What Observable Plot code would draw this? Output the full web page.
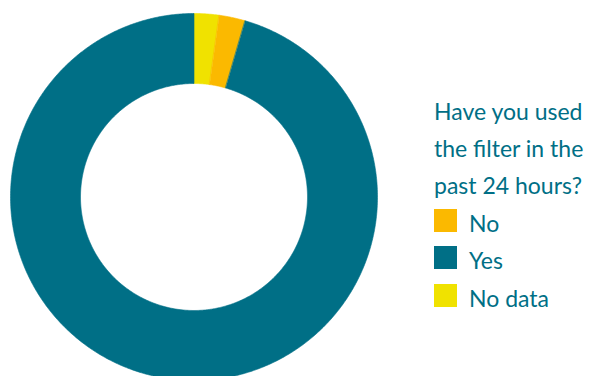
<!DOCTYPE html>
<html>
<head>
<meta charset="utf-8">
<script src="https://cdn.jsdelivr.net/npm/d3@7"></script>
<script src="https://cdn.jsdelivr.net/npm/@observablehq/plot@0.6"></script>
<style>
  html, body { margin: 0; padding: 0; background: #fff; }
  #wrap { position: relative; width: 589px; height: 376px; overflow: hidden; }
  #chart { position: absolute; left: 0; top: 0; }
  #legend { position: absolute; left: 434px; top: 92.5px; font-family: Lato, sans-serif; font-size: 23px; line-height: 37.4px; color: #006f86; }
  #legend .title { white-space: nowrap; }
  #legend .item { white-space: nowrap; }
  #legend .sw { display: inline-block; vertical-align: baseline; width: 23px; height: 23px; margin-right: 12px; }
</style>
</head>
<body>
<div id="wrap">
  <div id="chart"></div>
  <div id="legend"></div>
</div>
<script>
// Data
const categories = ["No", "Yes", "No data"];
const values = [2.3, 95.5, 2.2];
const colors = ["#fbb900", "#006f86", "#f0e200"];
const sliceOrder = ["No data", "No", "Yes"]; // clockwise from 12 o'clock
const legendTitle = ["Have you used", "the filter in the", "past 24 hours?"];

const innerRatio = 0.6185;

// Build slice polygons
const total = d3.sum(values);
const points = [];
let acc = 0;
for (const key of sliceOrder) {
  const v = values[categories.indexOf(key)];
  const a0 = acc / total * 2 * Math.PI;
  const a1 = (acc + v) / total * 2 * Math.PI;
  acc += v;
  const n = Math.max(4, Math.ceil((a1 - a0) / (Math.PI / 360)));
  for (let i = 0; i <= n; i++) {
    const a = a0 + (a1 - a0) * i / n;
    points.push({key, x: Math.sin(a), y: Math.cos(a)});
  }
  for (let i = n; i >= 0; i--) {
    const a = a0 + (a1 - a0) * i / n;
    points.push({key, x: innerRatio * Math.sin(a), y: innerRatio * Math.cos(a)});
  }
}

const chart = Plot.plot({
  width: 589,
  height: 376,
  margin: 0,
  x: {domain: [-1, 1], range: [10, 377], axis: null},
  y: {domain: [-1, 1], range: [380, 13], axis: null},
  color: {domain: categories, range: colors},
  marks: [
    Plot.line(points, {x: "x", y: "y", z: "key", fill: "key", stroke: "key", strokeWidth: 0.6, curve: "linear-closed"})
  ]
});
chart.style.overflow = "hidden";
document.getElementById("chart").appendChild(chart);

// Legend
const legend = document.getElementById("legend");
for (const line of legendTitle) {
  const d = document.createElement("div");
  d.className = "title";
  d.textContent = line;
  legend.appendChild(d);
}
categories.forEach((c, i) => {
  const item = document.createElement("div");
  item.className = "item";
  const sw = document.createElement("span");
  sw.className = "sw";
  sw.style.background = colors[i];
  const lab = document.createElement("span");
  lab.textContent = c;
  item.appendChild(sw);
  item.appendChild(lab);
  legend.appendChild(item);
});
</script>
</body>
</html>
